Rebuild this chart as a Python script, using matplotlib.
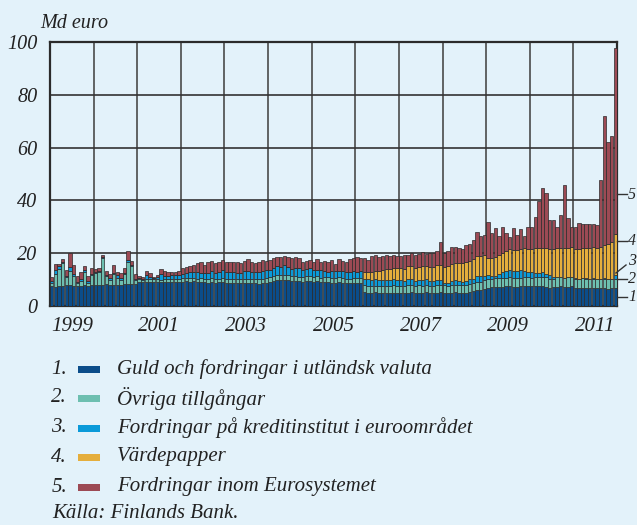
"""Finlands Banks tillgångar, stapeldiagram per månad 1999-2011."""

import matplotlib

matplotlib.use("Agg")
import matplotlib.pyplot as plt
from matplotlib.lines import Line2D
from matplotlib.patches import Rectangle
import numpy as np

W, H = 637, 525
BG = "#e3f2fa"
EDGE = "#2b2b2b"

first_year = 1999
year_ticks = ["1999", "2001", "2003", "2005", "2007", "2009", "2011"]
y_ticks = [0, 20, 40, 60, 80, 100]

# Md euro, one row per year (Jan..Dec)
guld = [
    7.6, 7.3, 7.4, 7.6, 7.8, 7.8, 7.7, 7.6, 7.6, 7.8, 7.7, 7.8,
    8.0, 8.0, 8.1, 8.2, 8.0, 8.0, 8.1, 8.0, 8.2, 8.3, 8.3, 8.4,
    9.0, 9.0, 9.0, 9.1, 9.0, 9.2, 9.0, 9.1, 9.2, 9.2, 9.0, 9.1,
    9.2, 9.3, 9.2, 9.4, 9.2, 9.0, 9.0, 8.9, 9.0, 8.8, 9.0, 9.2,
    8.8, 8.8, 8.7, 8.6, 8.6, 8.8, 8.7, 8.6, 8.8, 8.5, 8.7, 8.8,
    9.2, 9.6, 9.8, 9.8, 10.0, 9.8, 9.6, 9.5, 9.3, 9.2, 9.4, 9.5,
    9.2, 9.3, 9.0, 9.1, 9.2, 8.8, 8.9, 9.0, 8.8, 8.7, 8.6, 8.7,
    8.7, 8.6, 5.2, 5.1, 5.0, 5.2, 5.1, 5.0, 5.1, 5.0, 5.1, 5.0,
    5.1, 5.0, 5.1, 5.2, 5.0, 5.1, 5.0, 5.2, 5.1, 5.0, 5.1, 5.2,
    5.1, 5.0, 5.1, 5.2, 5.0, 5.1, 5.0, 5.2, 5.8, 6.0, 6.2, 6.5,
    7.0, 7.2, 7.1, 7.3, 7.2, 7.4, 7.5, 7.3, 7.2, 7.4, 7.5, 7.6,
    7.4, 7.6, 7.5, 7.7, 7.2, 7.0, 7.1, 7.3, 7.4, 7.2, 7.3, 7.4,
    6.9, 6.8, 6.9, 6.8, 6.7, 6.8, 6.7, 6.8, 6.7, 6.6, 6.7, 6.7,
]
ovriga = [
    1.0, 4.8, 6.8, 8.5, 3.2, 5.5, 3.5, 1.0, 2.0, 5.0, 1.2, 4.0,
    4.5, 5.0, 10.0, 3.0, 1.8, 4.0, 2.5, 2.0, 4.0, 8.5, 7.0, 1.5,
    1.2, 1.0, 1.2, 1.0, 1.3, 1.2, 1.0, 1.2, 1.1, 1.0, 1.2, 1.3,
    1.3, 1.2, 1.4, 1.3, 1.2, 1.5, 1.4, 1.3, 1.5, 1.4, 1.3, 1.5,
    1.5, 1.6, 1.4, 1.5, 1.7, 1.5, 1.6, 1.5, 1.4, 1.6, 1.5, 1.7,
    1.8, 1.7, 2.0, 1.8, 1.9, 1.8, 1.7, 1.9, 1.8, 1.7, 1.8, 1.9,
    1.8, 1.9, 1.7, 1.8, 1.6, 1.8, 1.7, 1.9, 1.8, 1.7, 1.8, 1.9,
    1.9, 2.0, 2.6, 2.5, 2.7, 2.5, 2.6, 2.4, 2.6, 2.5, 2.7, 2.6,
    2.6, 2.5, 2.7, 2.6, 2.5, 2.8, 2.6, 2.7, 2.5, 2.6, 2.8, 2.7,
    2.8, 2.6, 2.9, 2.7, 3.0, 2.8, 2.9, 3.0, 2.8, 3.1, 3.0, 3.2,
    3.2, 3.0, 3.4, 3.2, 3.5, 3.3, 3.4, 3.2, 3.5, 3.3, 3.4, 3.2,
    3.3, 3.2, 3.5, 3.4, 3.6, 3.4, 3.2, 3.5, 3.4, 3.3, 3.5, 3.4,
    3.5, 3.4, 3.6, 3.5, 3.4, 3.6, 3.5, 3.4, 3.6, 3.5, 3.4, 3.5,
]
kreditinst = [
    1.0, 1.5, 1.0, 0.6, 0.3, 1.5, 1.0, 0.5, 0.5, 1.0, 0.4, 0.5,
    0.5, 0.3, 0.3, 0.5, 0.8, 0.5, 1.0, 0.6, 0.4, 0.5, 0.4, 0.3,
    0.3, 0.4, 1.5, 1.0, 0.3, 0.4, 2.0, 1.0, 1.2, 1.5, 1.4, 1.5,
    1.8, 2.0, 2.2, 2.0, 2.5, 2.0, 2.2, 2.4, 2.6, 2.2, 2.5, 2.8,
    2.6, 2.4, 2.8, 2.5, 2.2, 2.8, 3.0, 2.7, 2.5, 2.6, 2.9, 3.0,
    2.8, 3.0, 3.3, 3.0, 3.5, 3.2, 2.8, 3.0, 3.2, 2.8, 3.0, 3.1,
    2.6, 2.4, 2.8, 2.5, 2.2, 2.6, 2.5, 2.4, 2.7, 2.6, 2.4, 2.5,
    2.4, 2.6, 2.4, 2.6, 2.3, 2.4, 2.2, 2.5, 2.3, 2.2, 2.4, 2.2,
    2.2, 2.0, 2.4, 2.3, 2.1, 2.0, 2.3, 2.2, 2.0, 1.8, 2.1, 2.0,
    1.0, 1.2, 1.5, 1.8, 1.5, 1.2, 1.6, 2.0, 1.8, 2.2, 2.0, 1.8,
    1.5, 1.2, 1.0, 1.5, 2.0, 2.5, 2.8, 2.6, 2.4, 2.8, 2.5, 2.2,
    2.0, 1.8, 1.5, 1.6, 1.4, 1.2, 0.5, 0.3, 0.2, 0.2, 0.2, 0.2,
    0.2, 0.2, 0.2, 0.2, 0.2, 0.2, 0.2, 0.2, 0.2, 0.2, 0.3, 1.5,
]
vardepapper = [
    0, 0, 0, 0, 0, 0, 0, 0, 0, 0, 0, 0,
    0, 0, 0, 0, 0, 0, 0, 0, 0, 0, 0, 0,
    0, 0, 0, 0, 0, 0, 0, 0, 0, 0, 0, 0,
    0, 0, 0, 0, 0, 0, 0, 0, 0, 0, 0, 0,
    0, 0, 0, 0, 0, 0, 0, 0, 0, 0, 0, 0,
    0, 0, 0, 0, 0, 0, 0, 0, 0, 0, 0, 0,
    0, 0, 0, 0, 0, 0, 0, 0, 0, 0, 0, 0,
    0, 0, 2.5, 2.8, 3.0, 3.2, 3.5, 3.8, 4.0, 4.2, 4.3, 4.5,
    4.5, 4.6, 4.8, 5.0, 4.8, 5.0, 5.2, 5.0, 5.3, 5.5, 5.4, 5.6,
    6.0, 6.2, 6.4, 6.6, 6.8, 7.0, 7.2, 7.0, 7.4, 7.5, 7.8, 8.0,
    6.5, 6.8, 7.0, 7.2, 7.5, 7.6, 7.8, 8.0, 8.0, 8.2, 8.5, 8.6,
    9.0, 9.2, 9.5, 9.4, 9.8, 10.0, 10.8, 11.0, 10.8, 11.2, 11.0, 11.2,
    11.0, 11.2, 11.4, 11.6, 11.5, 11.8, 11.6, 12.0, 12.5, 13.2, 14.0, 15.5,
]
eurosystemet = [
    1.5, 2.3, 0.7, 1.0, 2.2, 5.2, 3.3, 2.4, 2.9, 1.4, 2.1, 2.0,
    1.0, 1.2, 1.0, 1.5, 1.4, 3.0, 1.4, 1.9, 1.7, 3.4, 1.3, 1.8,
    0.9, 0.5, 1.6, 1.3, 0.5, 0.8, 1.9, 2.0, 1.2, 1.3, 1.2, 1.5,
    2.0, 2.4, 2.2, 2.9, 3.3, 4.3, 2.9, 4.2, 4.1, 3.8, 4.0, 3.8,
    3.9, 4.0, 3.6, 4.2, 3.7, 3.9, 4.4, 4.0, 3.5, 4.1, 4.4, 3.5,
    3.7, 3.8, 3.4, 4.1, 3.6, 3.9, 4.0, 4.1, 3.8, 3.1, 2.9, 3.0,
    3.2, 4.1, 3.0, 3.8, 3.8, 4.3, 2.9, 4.5, 3.9, 3.5, 5.0, 4.9,
    5.5, 4.8, 5.5, 4.5, 5.8, 6.2, 5.1, 5.3, 5.2, 4.9, 5.0, 4.7,
    4.6, 5.4, 4.2, 4.9, 5.1, 4.9, 5.4, 4.7, 5.3, 5.1, 5.6, 8.7,
    5.1, 6.0, 6.6, 6.2, 5.7, 5.4, 6.3, 6.3, 7.2, 9.2, 7.5, 7.5,
    13.8, 9.3, 11.0, 7.3, 9.8, 6.7, 4.5, 8.4, 5.9, 7.3, 4.6, 8.4,
    8.3, 12.1, 17.6, 22.5, 20.7, 11.0, 11.0, 8.0, 12.7, 24.0, 11.2, 7.8,
    8.4, 9.8, 8.9, 8.9, 9.4, 8.6, 8.8, 25.4, 48.8, 38.5, 40.1, 70.5,
]

series = [guld, ovriga, kreditinst, vardepapper, eurosystemet]
names = [
    "Guld och fordringar i utländsk valuta",
    "Övriga tillgångar",
    "Fordringar på kreditinstitut i euroområdet",
    "Värdepapper",
    "Fordringar inom Eurosystemet",
]
colors = ["#0b4d8a", "#6dbfb0", "#0a9ad9", "#e5ae3c", "#9c4a54"]

plt.rcParams["font.family"] = ["Liberation Serif", "DejaVu Serif"]
plt.rcParams["font.style"] = "italic"


def px(x, y):
    """Pixel position (from top-left) -> figure fraction."""
    return x / W, 1 - y / H


fig = plt.figure(figsize=(W / 100, H / 100), dpi=100, facecolor=BG)
ax = fig.add_axes([50 / W, 1 - 306 / H, 567 / W, 264 / H], facecolor=BG)

n = len(guld)
x = np.arange(n) + 0.5
bottom = np.zeros(n)
for vals, col in zip(series, colors):
    vals = np.asarray(vals, dtype=float)
    ax.bar(x, vals, width=0.92, bottom=bottom, color=col,
           edgecolor=EDGE, linewidth=0.5, zorder=3)
    bottom += vals

n_years = n // 12
ax.set_xlim(0, n)
ax.set_ylim(0, 100)

# gridlines at each new year, labels centred on odd years
ax.set_xticks(np.arange(1, n_years) * 12)
ax.set_xticklabels([])
ax.set_xticks([(int(y) - first_year) * 12 + 6 for y in year_ticks], minor=True)
ax.set_xticklabels(year_ticks, minor=True, fontsize=15, color="#222")
ax.set_yticks(y_ticks)
ax.set_yticklabels([str(v) for v in y_ticks], fontsize=14.5, color="#222")
ax.tick_params(axis="both", which="both", length=0)
ax.tick_params(axis="x", which="minor", pad=8)
ax.tick_params(axis="y", pad=9)

ax.grid(axis="y", color="#333333", linewidth=1.2, zorder=0)
ax.grid(axis="x", which="major", color="#4a4a4a", linewidth=1.2, zorder=0)
ax.set_axisbelow(True)
for sp in ax.spines.values():
    sp.set_color("#2b2b2b")
    sp.set_linewidth(1.6)

fig.text(*px(40, 24), "Md euro", fontsize=14.5, color="#222", va="center", ha="left")

# right-hand series markers
markers = [
    ("5", (617, 194), (627, 194), 195),
    ("4", (617, 241), (627, 241), 241),
    ("3", (616, 273), (626, 265), 261),
    ("2", (617, 279), (627, 279), 279),
    ("1", (617, 297), (627, 297), 297),
]
for lab, p0, p1, ty in markers:
    a, b = px(*p0)
    c, d = px(*p1)
    fig.add_artist(Line2D([a, c], [b, d], color="#333", linewidth=1.0,
                          transform=fig.transFigure))
    fig.text(*px(628, ty), lab, fontsize=11.5, color="#222", va="center", ha="left")

# legend
row_y = [369, 398, 428, 457, 487]
for i, (name, col, ry) in enumerate(zip(names, colors, row_y)):
    fig.text(*px(67, ry), f"{i + 1}.", fontsize=15, color="#222",
             va="center", ha="right")
    lx, ly = px(78, ry + 3.5)
    fig.add_artist(Rectangle((lx, ly), 22 / W, 7 / H, facecolor=col,
                             edgecolor="none", transform=fig.transFigure))
    fig.text(*px(117, ry), name, fontsize=15, color="#222", va="center", ha="left")

fig.text(*px(52, 514), "Källa: Finlands Bank.", fontsize=15, color="#222",
         va="center", ha="left")

fig.savefig("out.png", dpi=100, facecolor=BG)
